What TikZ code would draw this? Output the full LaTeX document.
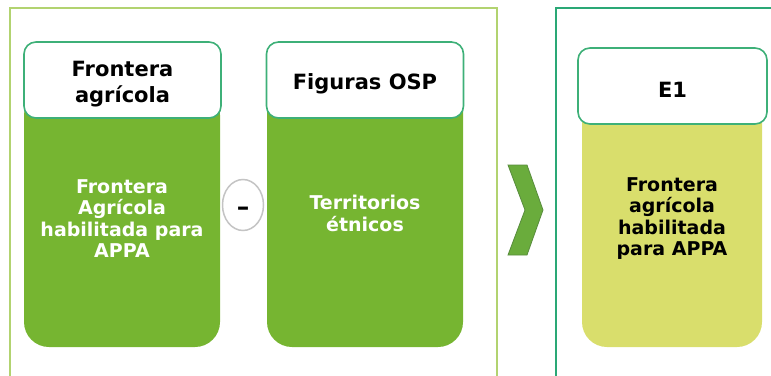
\documentclass[tikz,border=0pt]{standalone}
\usepackage{fontspec}
\setmainfont{DejaVu Sans}
\usetikzlibrary{shapes.geometric}
\definecolor{frameA}{RGB}{178,211,112}
\definecolor{frameB}{RGB}{42,168,118}
\definecolor{hdrline}{RGB}{62,176,120}
\definecolor{cardgreen}{RGB}{118,181,49}
\definecolor{cardyellow}{RGB}{217,222,108}
\definecolor{chevfill}{RGB}{106,172,60}
\definecolor{chevline}{RGB}{88,140,60}
\definecolor{minusline}{RGB}{196,196,196}
\tikzset{
  x=1pt,y=-1pt,
  hdr/.style={draw=hdrline,line width=1.6pt,fill=white,rounded corners=12pt,
    minimum width=#1,minimum height=76pt,inner sep=0pt},
  hdrtext/.style={inner sep=0pt,align=center,
    font=\fontsize{21}{26}\selectfont\bfseries,text=black},
  cardbody/.style={fill=cardgreen,rounded corners=25pt,minimum width=#1,
    inner sep=0pt,align=center,
    font=\fontsize{19}{21.5}\selectfont\bfseries,text=white},
}
\begin{document}
\begin{tikzpicture}
\useasboundingbox (0,0) rectangle (771,375);
% outer frames
\draw[frameA,line width=1.3pt] (10,380) -- (10,8) -- (497,8) -- (497,380);
\draw[frameB,line width=1.5pt] (556,380) -- (556,8) -- (780,8);
% card 1
\node[cardbody=196pt,minimum height=257pt] (b1) at (122,218.5) {Frontera\\Agrícola\\habilitada para\\APPA};
\node[hdr=197pt] (h1) at (122.5,80) {};
\node[hdrtext] (t1) at ([yshift=-4pt]h1.center) {Frontera\\agrícola};
% card 2
\node[cardbody=196pt,minimum height=267pt] (b2) at (365,213.5) {Territorios\\étnicos};
\node[hdr=197pt] (h2) at (365,80) {};
\node[hdrtext] (t2) at ([yshift=-4pt]h2.center) {Figuras OSP};
% card 3
\node[cardbody=180pt,minimum height=257pt,fill=cardyellow,text=black] (b3) at (672,218.5) {Frontera\\agrícola\\habilitada\\para APPA};
\node[hdr=189pt] (h3) at (672.5,86) {};
\node[hdrtext] (t3) at ([yshift=-4pt]h3.center) {E1};
% minus
\node[ellipse,draw=minusline,line width=1.5pt,fill=white,
  minimum width=41pt,minimum height=51pt,inner sep=0pt] (minus) at (243,205) {};
\node[inner sep=0pt,font=\fontsize{25}{25}\selectfont\bfseries] (minustext) at ([yshift=-6pt]minus.center) {–};
% chevron
\draw[chevline,fill=chevfill,line width=0.8pt] (508,165) -- (527,165) -- (543,210) -- (527,255) -- (508,255) -- (525,210) -- cycle;
\end{tikzpicture}
\end{document}
